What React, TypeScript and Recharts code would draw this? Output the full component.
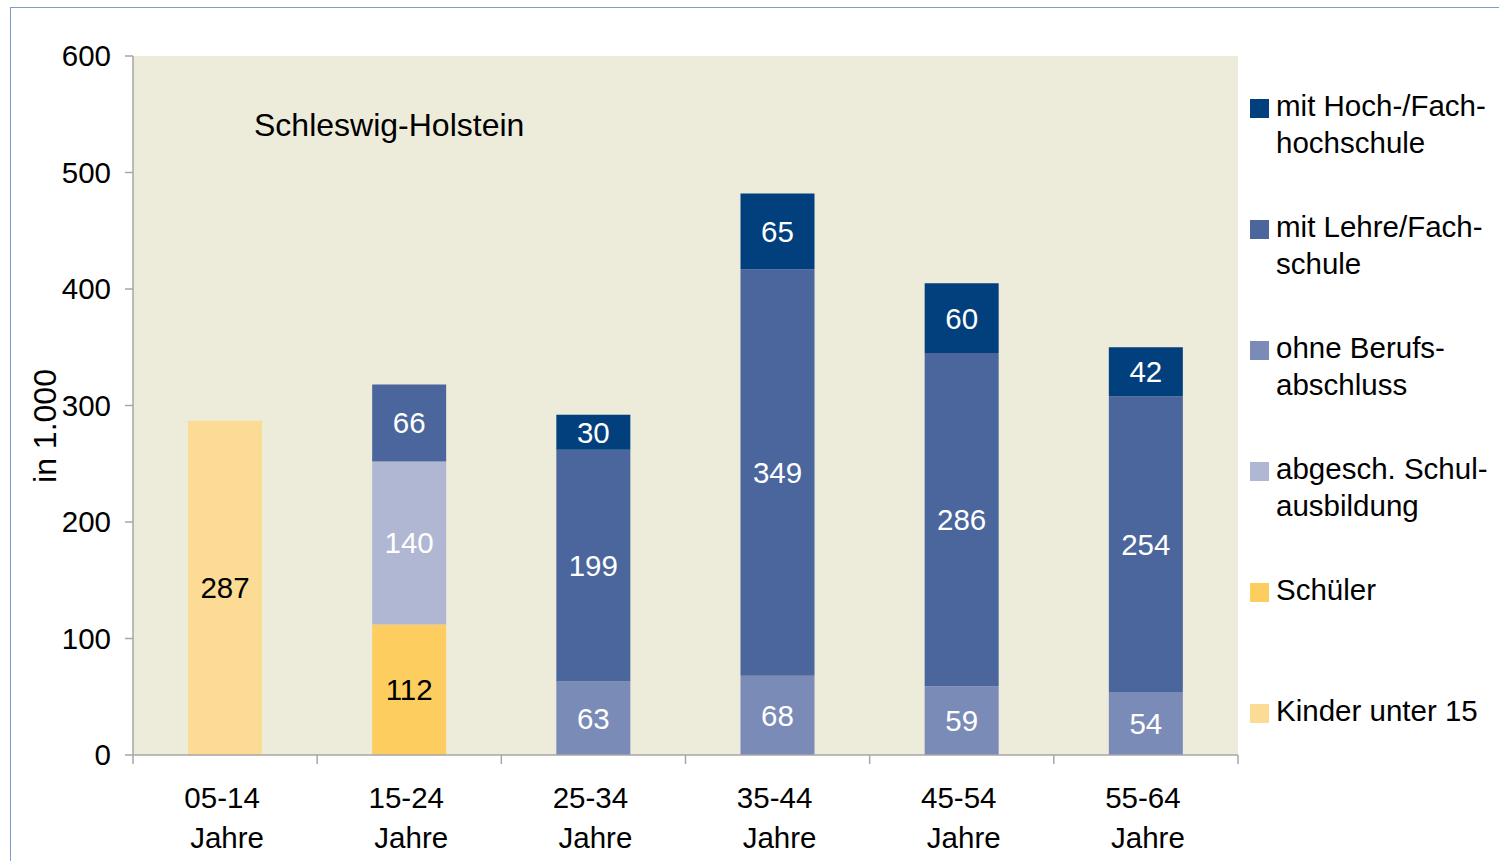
import { Bar, BarChart, CartesianGrid, LabelList, XAxis, YAxis } from "recharts";

const categories = ["05-14 Jahre", "15-24 Jahre", "25-34 Jahre", "35-44 Jahre", "45-54 Jahre", "55-64 Jahre"];

const kinder = [287, null, null, null, null, null];
const schueler = [null, 112, null, null, null, null];
const abgeschSchule = [null, 140, null, null, null, null];
const ohneBeruf = [null, null, 63, 68, 59, 54];
const lehreFachschule = [null, 66, 199, 349, 286, 254];
const hochschule = [null, null, 30, 65, 60, 42];

const yTicks = [0, 100, 200, 300, 400, 500, 600];

// legend, top to bottom
const legendItems = [
  { label: "mit Hoch-/Fach-\nhochschule", color: "#023f7d" },
  { label: "mit Lehre/Fach-\nschule", color: "#4a669c" },
  { label: "ohne Berufs-\nabschluss", color: "#7b8bb7" },
  { label: "abgesch. Schul-\nausbildung", color: "#afb7d2" },
  { label: "Schüler", color: "#fdce5f" },
  { label: "Kinder unter 15", color: "#fcdc94" },
];

const data = categories.map((cat, i) => ({
  cat,
  kinder: kinder[i],
  schueler: schueler[i],
  abgesch: abgeschSchule[i],
  ohne: ohneBeruf[i],
  lehre: lehreFachschule[i],
  hoch: hochschule[i],
}));

const FONT = "'Liberation Sans', Arial, sans-serif";
const AXIS = "#a6a6a6";
const PLOT_LEFT = 133;
const PLOT_RIGHT = 1238;
const bandWidth = (PLOT_RIGHT - PLOT_LEFT) / categories.length;
const LABEL_SIZE = 29.5;

function AgeTick(props: any) {
  const { x, y, payload, index } = props;
  const [range, unit] = String(payload.value).split(" ");
  const top = y - 9;
  return (
    <g>
      <line x1={x - bandWidth / 2} x2={x - bandWidth / 2} y1={top} y2={top + 9} stroke={AXIS} strokeWidth={1.5} />
      {index === categories.length - 1 && (
        <line x1={x + bandWidth / 2} x2={x + bandWidth / 2} y1={top} y2={top + 9} stroke={AXIS} strokeWidth={1.5} />
      )}
      <text x={x - 3} y={top + 53} textAnchor="middle" fontSize={29.5} fontFamily={FONT} fill="#000">
        {range}
      </text>
      <text x={x + 2} y={top + 93} textAnchor="middle" fontSize={29.5} fontFamily={FONT} fill="#000">
        {unit}
      </text>
    </g>
  );
}

export default function App() {
  return (
    <div style={{ position: "absolute", left: 0, top: 0, width: 1499, height: 861, overflow: "hidden", background: "#fff" }}>
      <div style={{ position: "absolute", left: 10, top: 7, width: 1520, height: 900, border: "1.5px solid #7f9bc8" }} />
      <div style={{ position: "absolute", left: 0, top: 0 }}>
        <BarChart width={1499} height={861} data={data} margin={{ top: 56, right: 261, bottom: 0, left: 0 }}>
          <CartesianGrid fill="#edebda" horizontal={false} vertical={false} />
          <XAxis
            dataKey="cat"
            height={106}
            tickLine={false}
            axisLine={{ stroke: AXIS, strokeWidth: 1.5 }}
            tickSize={9}
            tickMargin={0}
            tick={<AgeTick />}
            interval={0}
          />
          <YAxis
            width={133}
            domain={[0, 600]}
            ticks={yTicks}
            tickSize={8}
            tickMargin={14}
            axisLine={{ stroke: AXIS, strokeWidth: 1.5 }}
            tickLine={{ stroke: AXIS, strokeWidth: 1.5 }}
            tick={{ fontSize: 29.5, fontFamily: FONT, fill: "#000" }}
          />
          <Bar dataKey="kinder" stackId="a" fill="#fcdc94" barSize={74} isAnimationActive={false}>
            <LabelList dataKey="kinder" position="center" fill="#000" fontSize={LABEL_SIZE} fontFamily={FONT} />
          </Bar>
          <Bar dataKey="schueler" stackId="a" fill="#fdce5f" barSize={74} isAnimationActive={false}>
            <LabelList dataKey="schueler" position="center" fill="#000" fontSize={LABEL_SIZE} fontFamily={FONT} />
          </Bar>
          <Bar dataKey="abgesch" stackId="a" fill="#afb7d2" barSize={74} isAnimationActive={false}>
            <LabelList dataKey="abgesch" position="center" fill="#fff" fontSize={LABEL_SIZE} fontFamily={FONT} />
          </Bar>
          <Bar dataKey="ohne" stackId="a" fill="#7b8bb7" barSize={74} isAnimationActive={false}>
            <LabelList dataKey="ohne" position="center" fill="#fff" fontSize={LABEL_SIZE} fontFamily={FONT} />
          </Bar>
          <Bar dataKey="lehre" stackId="a" fill="#4a669c" barSize={74} isAnimationActive={false}>
            <LabelList dataKey="lehre" position="center" fill="#fff" fontSize={LABEL_SIZE} fontFamily={FONT} />
          </Bar>
          <Bar dataKey="hoch" stackId="a" fill="#023f7d" barSize={74} isAnimationActive={false}>
            <LabelList dataKey="hoch" position="center" fill="#fff" fontSize={LABEL_SIZE} fontFamily={FONT} />
          </Bar>
        </BarChart>
      </div>
      <div style={{ position: "absolute", left: 1250, top: 87, fontFamily: FONT, fontSize: 29.5, color: "#000" }}>
        {legendItems.map((item) => (
          <div key={item.label} style={{ height: 121, display: "flex", alignItems: "flex-start" }}>
            <div style={{ width: 19, height: 19, background: item.color, marginTop: 12, marginRight: 7, flex: "none" }} />
            <div style={{ lineHeight: "37px", whiteSpace: "pre-line" }}>{item.label}</div>
          </div>
        ))}
      </div>
      <div style={{ position: "absolute", left: 254, top: 107, fontFamily: FONT, fontSize: 32, color: "#000", whiteSpace: "nowrap" }}>
        Schleswig-Holstein
      </div>
      <div
        style={{
          position: "absolute",
          left: 44.5,
          top: 426,
          transform: "translate(-50%, -50%) rotate(-90deg)",
          fontFamily: FONT,
          fontSize: 32,
          color: "#000",
          whiteSpace: "nowrap",
        }}
      >
        in 1.000
      </div>
    </div>
  );
}
